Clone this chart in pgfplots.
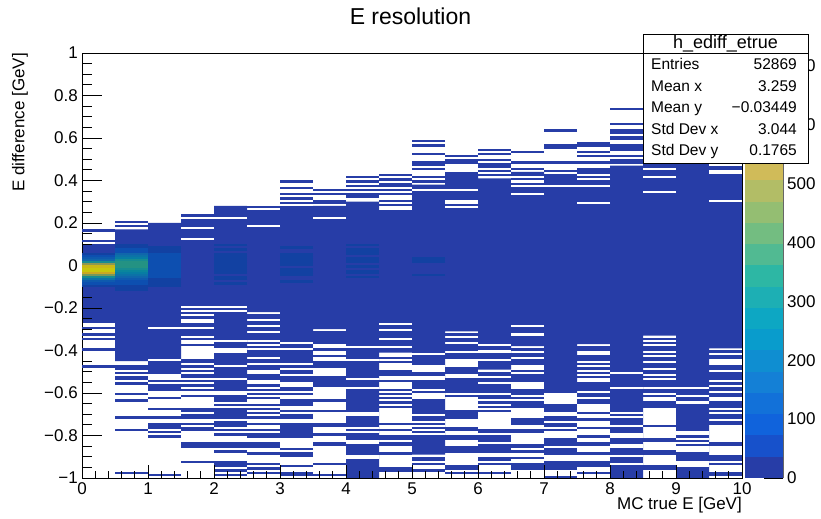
\documentclass[border=0pt]{standalone}
\usepackage{pgfplots}
\pgfplotsset{compat=1.18}
\usepackage{fontspec}
\setmainfont{Liberation Sans}
\definecolor{b0}{RGB}{39,61,167}
\definecolor{b1}{RGB}{23,81,203}
\definecolor{b2}{RGB}{16,99,220}
\definecolor{b3}{RGB}{18,113,217}
\definecolor{b4}{RGB}{20,128,214}
\definecolor{b5}{RGB}{15,142,209}
\definecolor{b6}{RGB}{9,156,204}
\definecolor{b7}{RGB}{13,167,195}
\definecolor{b8}{RGB}{29,175,180}
\definecolor{b9}{RGB}{45,183,164}
\definecolor{b10}{RGB}{81,186,146}
\definecolor{b11}{RGB}{115,189,129}
\definecolor{b12}{RGB}{148,190,114}
\definecolor{b13}{RGB}{178,189,102}
\definecolor{b14}{RGB}{208,187,89}
\definecolor{b15}{RGB}{225,192,75}
\definecolor{b16}{RGB}{244,197,59}
\definecolor{b17}{RGB}{253,210,43}
\definecolor{b18}{RGB}{251,230,29}
\definecolor{b19}{RGB}{249,249,15}
\pgfplotsset{colormap={rootbird}{color=(b0) color=(b1) color=(b2) color=(b3) color=(b4) color=(b5) color=(b6) color=(b7) color=(b8) color=(b9) color=(b10) color=(b11) color=(b12) color=(b13) color=(b14) color=(b15) color=(b16) color=(b17) color=(b18) color=(b19) color=(b19)}}
\newcommand{\lab}{\fontsize{17bp}{20bp}\selectfont}
\newcommand{\stf}{\fontsize{15.5bp}{18bp}\selectfont}
\begin{document}
\begin{tikzpicture}
\useasboundingbox (0,0) rectangle (821bp,519bp);
% ---------------- main histogram ----------------
\begin{axis}[
  at={(82bp,41bp)}, anchor=south west, scale only axis,
  width=660bp, height=425bp,
  xmin=0, xmax=10, ymin=-1, ymax=1,
  axis on top, tick pos=left, tick align=inside,
  xtick=\empty,
  ytick={-1,-0.8,-0.6,-0.4,-0.2,0,0.2,0.4,0.6,0.8,1},
  yticklabels={−1,−0.8,−0.6,−0.4,−0.2,0,0.2,0.4,0.6,0.8,1},
  minor y tick num=3,
  major tick length=20bp, minor tick length=10bp,
  every tick/.style={black, line width=0.8bp},
  axis line style={black, line width=0.8bp},
  yticklabel style={font=\lab, inner sep=0pt, xshift=-4bp},
  ylabel={E difference [GeV]},
  ylabel style={font=\lab, at={(axis description cs:-0.0939,1)}, anchor=east, inner sep=0pt},
  title={E resolution},
  title style={font=\fontsize{23bp}{27bp}\selectfont, at={(axis description cs:0.4977,1.072)}, anchor=center, inner sep=0pt},
  colormap name=rootbird, colormap access=piecewise constant,
  point meta min=0, point meta max=722,
  mark size=16.5bp,
]
% dense region (lowest colour level)
\addplot[fill=b0, draw=none, mark=none] coordinates {
(0,0.10) (0.5,0.10) (0.5,0.17) (1,0.17) (1,0.20) (1.5,0.20) (1.5,0.21) (2,0.21) (2,0.28) (2.5,0.28)
(2.5,0.24) (3,0.24) (3,0.27) (3.5,0.27) (3.5,0.28) (4,0.28) (4,0.30) (4.5,0.30) (4.5,0.26) (5,0.26)
(5,0.38) (5.5,0.38) (5.5,0.42) (6,0.42) (6,0.41) (6.5,0.41) (6.5,0.44) (7,0.44) (7,0.43) (7.5,0.43)
(7.5,0.44) (8,0.44) (8,0.47) (8.5,0.47) (8.5,0.52) (9,0.52) (9,0.55) (9.5,0.55) (9.5,0.52) (10,0.52)
(10,-0.39) (9.5,-0.39) (9.5,-1) (9,-1) (9,-0.33) (8.5,-0.33) (8.5,-1) (8,-1) (8,-0.37) (7.5,-0.37)
(7.5,-0.60) (7,-0.60) (7,-0.38) (6.5,-0.38) (6.5,-0.49) (6,-0.49) (6,-0.31) (5.5,-0.31) (5.5,-0.89) (5,-0.89)
(5,-0.41) (4.5,-0.41) (4.5,-1) (4,-1) (4,-0.30) (3.5,-0.30) (3.5,-0.36) (3,-0.36) (3,-0.22) (2.5,-0.22)
(2.5,-0.59) (2,-0.59) (2,-0.35) (1.5,-0.35) (1.5,-0.51) (1,-0.51) (1,-0.45) (0.5,-0.45) (0.5,-0.27) (0,-0.27)};
% empty bins inside the dense region
\addplot[only marks, mark=-, mark options={draw=white, line width=2.125bp, solid}] coordinates {
(1.25,-0.295)(1.25,-0.445)
(1.75,0.175)(1.75,0.125)(1.75,-0.195)(1.75,-0.215)(1.75,-0.235)(1.75,-0.255)(1.75,-0.265)(1.75,-0.295)(1.75,-0.335)
(2.25,0.225)(2.25,-0.195)(2.25,-0.215)(2.25,-0.355)(2.25,-0.395)(2.25,-0.405)(2.25,-0.475)(2.25,-0.535)
(2.75,0.185)
(3.75,0.225)
(4.25,-0.385)(4.25,-0.445)(4.25,-0.535)(4.25,-0.575)(4.25,-0.695)(4.25,-0.705)(4.25,-0.765)(4.25,-0.785)(4.25,-0.825)(4.25,-0.835)(4.25,-0.895)(4.25,-0.905)
(4.75,-0.275)(4.75,-0.305)(4.75,-0.345)(4.75,-0.385)
(5.25,0.355)(5.25,-0.415)(5.25,-0.475)(5.25,-0.485)(5.25,-0.495)(5.25,-0.525)(5.25,-0.535)(5.25,-0.585)(5.25,-0.605)(5.25,-0.615)(5.25,-0.625)(5.25,-0.705)(5.25,-0.735)(5.25,-0.755)(5.25,-0.775)(5.25,-0.795)
(5.75,0.355)(5.75,0.305)(5.75,0.295)(5.75,0.275)
(6.25,-0.375)(6.25,-0.405)(6.25,-0.445)
(6.75,0.415)(6.75,0.395)(6.75,0.375)(6.75,0.335)(6.75,-0.285)(6.75,-0.325)
(7.25,0.375)
(7.75,0.425)(7.75,0.405)(7.75,0.375)(7.75,0.295)
(8.25,-0.505)(8.25,-0.575)(8.25,-0.695)(8.25,-0.715)(8.25,-0.755)(8.25,-0.795)(8.25,-0.805)(8.25,-0.845)(8.25,-0.855)(8.25,-0.895)(8.25,-0.935)
(8.75,0.455)(8.75,0.415)(8.75,0.345)
(9.25,-0.575)(9.25,-0.615)(9.25,-0.645)(9.25,-0.785)(9.25,-0.795)(9.25,-0.815)(9.25,-0.835)(9.25,-0.855)(9.25,-0.865)(9.25,-0.875)(9.25,-0.925)(9.25,-0.935)(9.25,-0.945)
(9.75,0.475)(9.75,0.445)(9.75,0.435)(9.75,0.305)};
% isolated filled bins (lowest colour level)
\addplot[only marks, mark=-, mark options={draw=b0, line width=2.3bp, solid}] coordinates {
(0.25,0.165)(0.25,0.115)
(0.75,0.205)(0.75,0.185)
(1.75,0.235)(1.75,0.215)
(2.75,0.275)(2.75,0.255)(2.75,0.245)
(3.25,0.395)(3.25,0.365)(3.25,0.335)(3.25,0.315)(3.25,0.295)(3.25,0.275)
(3.75,0.355)(3.75,0.335)(3.75,0.305)(3.75,0.295)
(4.25,0.415)(4.25,0.395)(4.25,0.375)(4.25,0.355)(4.25,0.335)(4.25,0.325)
(4.75,0.425)(4.75,0.405)(4.75,0.385)(4.75,0.375)(4.75,0.355)(4.75,0.335)(4.75,0.305)(4.75,0.285)
(5.25,0.585)(5.25,0.565)(5.25,0.525)(5.25,0.485)(5.25,0.475)(5.25,0.455)(5.25,0.415)(5.25,0.395)
(5.75,0.515)(5.75,0.495)(5.75,0.485)(5.75,0.435)(5.75,0.425)
(6.25,0.545)(6.25,0.525)(6.25,0.495)(6.25,0.475)(6.25,0.465)(6.25,0.445)(6.25,0.425)
(6.75,0.535)(6.75,0.485)(6.75,0.455)
(7.25,0.635)(7.25,0.565)(7.25,0.555)(7.25,0.485)(7.25,0.445)
(7.75,0.575)(7.75,0.565)(7.75,0.535)(7.75,0.515)(7.75,0.485)(7.75,0.455)(7.75,0.445)
(8.25,0.735)(8.25,0.665)(8.25,0.635)(8.25,0.625)(8.25,0.605)(8.25,0.595)(8.25,0.565)(8.25,0.555)(8.25,0.545)(8.25,0.515)(8.25,0.495)(8.25,0.485)
(0.25,-0.295)(0.25,-0.325)(0.25,-0.345)(0.25,-0.395)(0.25,-0.475)
(0.75,-0.475)(0.75,-0.485)(0.75,-0.505)(0.75,-0.525)(0.75,-0.535)(0.75,-0.555)(0.75,-0.605)(0.75,-0.635)(0.75,-0.715)(0.75,-0.775)(0.75,-0.975)
(1.25,-0.545)(1.25,-0.565)(1.25,-0.575)(1.25,-0.585)(1.25,-0.625)(1.25,-0.675)(1.25,-0.715)(1.25,-0.745)(1.25,-0.755)(1.25,-0.765)(1.25,-0.785)(1.25,-0.805)(1.25,-0.985)
(1.75,-0.375)(1.75,-0.445)(1.75,-0.455)(1.75,-0.475)(1.75,-0.495)(1.75,-0.515)(1.75,-0.525)(1.75,-0.545)(1.75,-0.565)(1.75,-0.585)(1.75,-0.615)(1.75,-0.675)(1.75,-0.685)(1.75,-0.705)(1.75,-0.715)(1.75,-0.745)(1.75,-0.765)(1.75,-0.775)(1.75,-0.835)(1.75,-0.845)(1.75,-0.855)(1.75,-0.925)
(2.25,-0.615)(2.25,-0.625)(2.25,-0.635)(2.25,-0.655)(2.25,-0.675)(2.25,-0.685)(2.25,-0.695)(2.25,-0.705)(2.25,-0.715)(2.25,-0.735)(2.25,-0.745)(2.25,-0.755)(2.25,-0.775)(2.25,-0.795)(2.25,-0.835)(2.25,-0.845)(2.25,-0.855)(2.25,-0.875)(2.25,-0.925)(2.25,-0.935)(2.25,-0.945)(2.25,-0.965)(2.25,-0.985)
(2.75,-0.235)(2.75,-0.245)(2.75,-0.265)(2.75,-0.275)(2.75,-0.295)(2.75,-0.305)(2.75,-0.325)(2.75,-0.335)(2.75,-0.345)(2.75,-0.365)(2.75,-0.385)(2.75,-0.405)(2.75,-0.415)(2.75,-0.425)(2.75,-0.445)(2.75,-0.455)(2.75,-0.475)(2.75,-0.485)(2.75,-0.515)(2.75,-0.525)(2.75,-0.535)(2.75,-0.565)(2.75,-0.585)(2.75,-0.605)(2.75,-0.625)(2.75,-0.655)(2.75,-0.675)(2.75,-0.695)(2.75,-0.715)(2.75,-0.745)(2.75,-0.775)(2.75,-0.795)(2.75,-0.805)(2.75,-0.835)(2.75,-0.845)(2.75,-0.855)(2.75,-0.885)(2.75,-0.935)(2.75,-0.955)(2.75,-0.975)
(3.25,-0.375)(3.25,-0.385)(3.25,-0.405)(3.25,-0.415)(3.25,-0.425)(3.25,-0.435)(3.25,-0.445)(3.25,-0.455)(3.25,-0.475)(3.25,-0.495)(3.25,-0.505)(3.25,-0.525)(3.25,-0.535)(3.25,-0.545)(3.25,-0.575)(3.25,-0.585)(3.25,-0.605)(3.25,-0.635)(3.25,-0.645)(3.25,-0.655)(3.25,-0.685)(3.25,-0.705)(3.25,-0.715)(3.25,-0.745)(3.25,-0.755)(3.25,-0.765)(3.25,-0.775)(3.25,-0.785)(3.25,-0.795)(3.25,-0.805)(3.25,-0.865)(3.25,-0.885)(3.25,-0.895)(3.25,-0.945)(3.25,-0.975)(3.25,-0.985)
(3.75,-0.315)(3.75,-0.325)(3.75,-0.335)(3.75,-0.345)(3.75,-0.355)(3.75,-0.365)(3.75,-0.395)(3.75,-0.425)(3.75,-0.455)(3.75,-0.465)(3.75,-0.475)(3.75,-0.525)(3.75,-0.535)(3.75,-0.545)(3.75,-0.555)(3.75,-0.565)(3.75,-0.635)(3.75,-0.685)(3.75,-0.745)(3.75,-0.755)(3.75,-0.795)(3.75,-0.835)(3.75,-0.845)(3.75,-0.935)(3.75,-0.985)
(4.75,-0.435)(4.75,-0.455)(4.75,-0.495)(4.75,-0.505)(4.75,-0.515)(4.75,-0.545)(4.75,-0.585)(4.75,-0.605)(4.75,-0.625)(4.75,-0.645)(4.75,-0.665)(4.75,-0.745)(4.75,-0.775)(4.75,-0.805)(4.75,-0.815)(4.75,-0.835)(4.75,-0.845)(4.75,-0.885)(4.75,-0.955)(4.75,-0.965)
(5.25,-0.905)(5.25,-0.915)(5.25,-0.935)(5.25,-0.965)
(5.75,-0.325)(5.75,-0.345)(5.75,-0.355)(5.75,-0.375)(5.75,-0.385)(5.75,-0.395)(5.75,-0.415)(5.75,-0.425)(5.75,-0.435)(5.75,-0.485)(5.75,-0.495)(5.75,-0.505)(5.75,-0.535)(5.75,-0.545)(5.75,-0.555)(5.75,-0.565)(5.75,-0.575)(5.75,-0.585)(5.75,-0.595)(5.75,-0.615)(5.75,-0.685)(5.75,-0.695)(5.75,-0.705)(5.75,-0.715)(5.75,-0.765)(5.75,-0.775)(5.75,-0.805)(5.75,-0.815)(5.75,-0.855)(5.75,-0.865)(5.75,-0.875)(5.75,-0.945)(5.75,-0.955)(5.75,-0.975)
(6.25,-0.505)(6.25,-0.515)(6.25,-0.535)(6.25,-0.545)(6.25,-0.565)(6.25,-0.575)(6.25,-0.585)(6.25,-0.595)(6.25,-0.615)(6.25,-0.625)(6.25,-0.645)(6.25,-0.665)(6.25,-0.685)(6.25,-0.775)(6.25,-0.785)(6.25,-0.805)(6.25,-0.815)(6.25,-0.825)(6.25,-0.845)(6.25,-0.855)(6.25,-0.865)(6.25,-0.875)(6.25,-0.905)(6.25,-0.915)(6.25,-0.935)(6.25,-0.975)
(6.75,-0.395)(6.75,-0.415)(6.75,-0.425)(6.75,-0.445)(6.75,-0.455)(6.75,-0.465)(6.75,-0.495)(6.75,-0.515)(6.75,-0.525)(6.75,-0.535)(6.75,-0.545)(6.75,-0.585)(6.75,-0.595)(6.75,-0.605)(6.75,-0.625)(6.75,-0.645)(6.75,-0.655)(6.75,-0.665)(6.75,-0.725)(6.75,-0.735)(6.75,-0.745)(6.75,-0.775)(6.75,-0.785)(6.75,-0.845)(6.75,-0.855)(6.75,-0.875)(6.75,-0.905)(6.75,-0.935)(6.75,-0.945)(6.75,-0.955)
(7.25,-0.655)(7.25,-0.665)(7.25,-0.675)(7.25,-0.685)(7.25,-0.715)(7.25,-0.725)(7.25,-0.745)(7.25,-0.755)(7.25,-0.775)(7.25,-0.815)(7.25,-0.825)(7.25,-0.835)(7.25,-0.845)(7.25,-0.865)(7.25,-0.875)(7.25,-0.885)(7.25,-0.925)(7.25,-0.935)(7.25,-0.945)(7.25,-0.955)(7.25,-0.995)
(7.75,-0.385)(7.75,-0.395)(7.75,-0.425)(7.75,-0.435)(7.75,-0.445)(7.75,-0.465)(7.75,-0.485)(7.75,-0.505)(7.75,-0.525)(7.75,-0.555)(7.75,-0.565)(7.75,-0.575)(7.75,-0.585)(7.75,-0.605)(7.75,-0.615)(7.75,-0.635)(7.75,-0.645)(7.75,-0.695)(7.75,-0.725)(7.75,-0.765)(7.75,-0.805)(7.75,-0.835)(7.75,-0.845)(7.75,-0.885)(7.75,-0.925)(7.75,-0.935)(7.75,-0.945)(7.75,-0.975)
(8.75,-0.345)(8.75,-0.365)(8.75,-0.385)(8.75,-0.395)(8.75,-0.415)(8.75,-0.435)(8.75,-0.445)(8.75,-0.465)(8.75,-0.475)(8.75,-0.495)(8.75,-0.505)(8.75,-0.525)(8.75,-0.545)(8.75,-0.555)(8.75,-0.565)(8.75,-0.585)(8.75,-0.595)(8.75,-0.615)(8.75,-0.645)(8.75,-0.655)(8.75,-0.665)(8.75,-0.755)(8.75,-0.815)(8.75,-0.825)(8.75,-0.875)(8.75,-0.885)(8.75,-0.945)(8.75,-0.955)
(9.75,-0.405)(9.75,-0.425)(9.75,-0.435)(9.75,-0.475)(9.75,-0.485)(9.75,-0.505)(9.75,-0.515)(9.75,-0.525)(9.75,-0.535)(9.75,-0.555)(9.75,-0.575)(9.75,-0.585)(9.75,-0.605)(9.75,-0.615)(9.75,-0.645)(9.75,-0.655)(9.75,-0.665)(9.75,-0.685)(9.75,-0.705)(9.75,-0.715)(9.75,-0.735)(9.75,-0.745)(9.75,-0.835)(9.75,-0.845)(9.75,-0.895)(9.75,-0.905)(9.75,-0.915)(9.75,-0.935)(9.75,-0.975)(9.75,-0.985)};
% bins with higher contents (colour mapped)
\addplot[scatter, only marks, mark=-, scatter src=explicit, mark options={line width=2.3bp, solid}] table[x=x, y=y, meta=z] {
x y z
0.25 0.055 45
0.25 0.045 75
0.25 0.035 110
0.25 0.025 170
0.25 0.015 280
0.25 0.005 450
0.25 -0.005 620
0.25 -0.015 715
0.25 -0.025 722
0.25 -0.035 600
0.25 -0.045 420
0.25 -0.055 280
0.25 -0.065 190
0.25 -0.075 120
0.25 -0.085 70
0.25 -0.095 40
0.75 0.095 45
0.75 0.085 60
0.75 0.075 85
0.75 0.065 100
0.75 0.055 150
0.75 0.045 180
0.75 0.035 230
0.75 0.025 280
0.75 0.015 310
0.75 0.005 330
0.75 -0.005 330
0.75 -0.015 300
0.75 -0.025 260
0.75 -0.035 230
0.75 -0.045 190
0.75 -0.055 150
0.75 -0.065 120
0.75 -0.075 100
0.75 -0.085 80
0.75 -0.095 65
0.75 -0.105 50
0.75 -0.115 42
1.25 0.085 40
1.25 0.075 50
1.25 0.065 60
1.25 0.055 70
1.25 0.045 80
1.25 0.035 85
1.25 0.025 90
1.25 0.015 95
1.25 0.005 95
1.25 -0.005 95
1.25 -0.015 90
1.25 -0.025 85
1.25 -0.035 80
1.25 -0.045 75
1.25 -0.055 70
1.25 -0.065 60
1.25 -0.075 50
1.25 -0.085 45
1.25 -0.095 40
2.25 0.095 38
2.25 0.075 45
2.25 0.055 50
2.25 0.045 55
2.25 0.035 60
2.25 0.025 62
2.25 0.015 65
2.25 0.005 65
2.25 -0.005 62
2.25 -0.015 60
2.25 -0.025 55
2.25 -0.035 50
2.25 -0.055 45
2.25 -0.065 40
2.25 -0.085 38
3.25 0.085 40
3.25 0.055 40
3.25 0.045 45
3.25 0.035 50
3.25 0.025 50
3.25 0.015 48
3.25 0.005 45
3.25 -0.015 45
3.25 -0.025 48
3.25 -0.035 42
3.25 -0.045 40
3.25 -0.075 38
4.25 0.095 38
4.25 0.075 40
4.25 0.065 42
4.25 0.055 40
4.25 0.035 45
4.25 0.025 45
4.25 0.015 42
4.25 -0.005 40
4.25 -0.025 45
4.25 -0.035 42
4.25 -0.055 37
5.25 0.035 42
5.25 0.025 40
5.25 0.015 38
5.25 -0.045 37
};
\end{axis}
% ---------------- x axis ticks and labels (drawn over the cells) ----------------
\begin{axis}[
  at={(82bp,41bp)}, anchor=south west, scale only axis,
  width=660bp, height=425bp,
  xmin=0, xmax=10, ymin=-1, ymax=1,
  hide y axis, tick pos=left, tick align=inside,
  xtick={0,1,2,3,4,5,6,7,8,9,10},
  xticklabels={0,1,2,3,4,5,6,7,8,9,10},
  minor x tick num=4,
  major tick length=12.5bp, minor tick length=6.5bp,
  every tick/.style={black, line width=0.8bp},
  axis line style={black, line width=0.8bp},
  xticklabel style={font=\lab, inner sep=0pt, yshift=-4.5bp},
  xlabel={MC true E [GeV]},
  xlabel style={font=\lab, at={(axis description cs:1,-0.0647)}, anchor=east, inner sep=0pt},
]
\end{axis}
% ---------------- palette ----------------
\begin{axis}[
  at={(745bp,41bp)}, anchor=south west, scale only axis,
  width=38bp, height=425bp,
  xmin=-0.5, xmax=0.5, ymin=0, ymax=722,
  ybar stacked, bar width=1,
  axis x line=none, axis y line*=right, tick align=inside,
  ytick={0,100,200,300,400,500,600,700},
  yticklabels={0,100,200,300,400,500,600,700},
  major tick length=19bp,
  every tick/.style={black, line width=0.8bp},
  y axis line style={black!60, line width=0.8bp},
  yticklabel style={font=\lab, inner sep=0pt, xshift=4bp},
]
\addplot[fill=b0, draw=none] coordinates {(0,36.1)};
\addplot[fill=b1, draw=none] coordinates {(0,36.1)};
\addplot[fill=b2, draw=none] coordinates {(0,36.1)};
\addplot[fill=b3, draw=none] coordinates {(0,36.1)};
\addplot[fill=b4, draw=none] coordinates {(0,36.1)};
\addplot[fill=b5, draw=none] coordinates {(0,36.1)};
\addplot[fill=b6, draw=none] coordinates {(0,36.1)};
\addplot[fill=b7, draw=none] coordinates {(0,36.1)};
\addplot[fill=b8, draw=none] coordinates {(0,36.1)};
\addplot[fill=b9, draw=none] coordinates {(0,36.1)};
\addplot[fill=b10, draw=none] coordinates {(0,36.1)};
\addplot[fill=b11, draw=none] coordinates {(0,36.1)};
\addplot[fill=b12, draw=none] coordinates {(0,36.1)};
\addplot[fill=b13, draw=none] coordinates {(0,36.1)};
\addplot[fill=b14, draw=none] coordinates {(0,36.1)};
\addplot[fill=b15, draw=none] coordinates {(0,36.1)};
\addplot[fill=b16, draw=none] coordinates {(0,36.1)};
\addplot[fill=b17, draw=none] coordinates {(0,36.1)};
\addplot[fill=b18, draw=none] coordinates {(0,36.1)};
\addplot[fill=b19, draw=none] coordinates {(0,36.1)};
\end{axis}
% ---------------- statistics box ----------------
\draw[line width=0.8bp, fill=white] (643bp,356bp) rectangle (808bp,485bp);
\draw[line width=0.8bp] (643bp,466bp) -- (808bp,466bp);
\node[font=\fontsize{18bp}{21bp}\selectfont, inner sep=0pt] at (725.5bp,475.5bp) {h\_ediff\_etrue};
\tikzset{stl/.style={font=\stf, inner sep=0pt, text height=11bp, text depth=3bp, anchor=west},
         str/.style={font=\stf, inner sep=0pt, text height=11bp, text depth=3bp, anchor=east}}
\node[stl] at (651bp,453.5bp) {Entries};     \node[str] at (797bp,453.5bp) {52869};
\node[stl] at (651bp,431.5bp) {Mean x};      \node[str] at (797bp,431.5bp) {3.259};
\node[stl] at (651bp,410bp)   {Mean y};      \node[str] at (797bp,410bp)   {−0.03449};
\node[stl] at (651bp,388.5bp) {Std Dev x};   \node[str] at (797bp,388.5bp) {3.044};
\node[stl] at (651bp,367bp)   {Std Dev y};   \node[str] at (797bp,367bp)   {0.1765};
\end{tikzpicture}
\end{document}
